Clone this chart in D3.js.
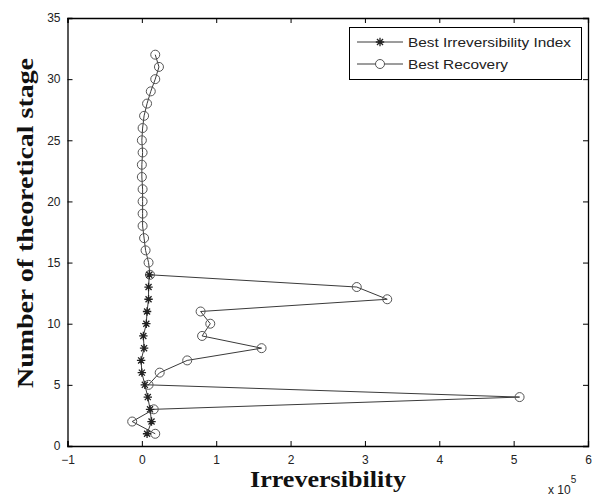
<!DOCTYPE html>
<html>
<head>
<meta charset="utf-8">
<script src="https://cdn.jsdelivr.net/npm/d3@7"></script>
<style>
  html, body { margin: 0; padding: 0; background: #fff; }
  svg { display: block; }
</style>
</head>
<body>
<script>
// ---- data (x values in units of 1e5) ----
const recoveryStages = [1,2,3,4,5,6,7,8,9,10,11,12,13,14,15,16,17,18,19,20,21,22,23,24,25,26,27,28,29,30,31,32];
const recoveryValues = [0.18,-0.13,0.16,5.08,0.09,0.24,0.61,1.61,0.81,0.92,0.79,3.30,2.89,0.11,0.09,0.05,0.03,0.01,0.01,0.01,0.01,0.0,0.0,0.01,0.0,0.01,0.03,0.07,0.12,0.18,0.23,0.18];
const irrevStages = [1,2,3,4,5,6,7,8,9,10,11,12,13,14];
const irrevValues = [0.07,0.13,0.11,0.08,0.04,0.0,-0.01,0.03,0.02,0.06,0.07,0.09,0.09,0.10];
const xTicks = [-1,0,1,2,3,4,5,6];
const yTicks = [0,5,10,15,20,25,30,35];
const seriesNames = ["Best Irreversibility  Index", "Best Recovery"];
const xLabel = "Irreversibility";
const yLabel = "Number of theoretical stage";

const W = 596, H = 497;
const L = 67.5, R = 588, T = 18, B = 446;

const svg = d3.select("body").append("svg").attr("width", W).attr("height", H);
const x = d3.scaleLinear().domain([-1, 6]).range([L, R]);
const y = d3.scaleLinear().domain([0, 35]).range([B, T]);

const lineCol = "#3a3a3a";
const tickFont = "Liberation Sans, Arial, sans-serif";

// axes (inward ticks, box)
const axB = d3.axisBottom(x).tickValues(xTicks).tickSize(-5).tickPadding(9).tickFormat(d3.format("d"));
const axT = d3.axisTop(x).tickValues(xTicks).tickSize(-5).tickFormat("");
const axL = d3.axisLeft(y).tickValues(yTicks).tickSize(-5).tickPadding(7).tickFormat(d3.format("d"));
const axR = d3.axisRight(y).tickValues(yTicks).tickSize(-5).tickFormat("");

function style(g) {
  g.select(".domain").attr("stroke", "#000").attr("stroke-width", 1.3);
  g.selectAll(".tick line").attr("stroke", "#000").attr("stroke-width", 1);
  g.selectAll(".tick text").attr("font-family", tickFont).attr("font-size", 12).attr("fill", "#222");
}
svg.append("g").attr("transform", `translate(0,${B})`).call(axB).call(style);
svg.append("g").attr("transform", `translate(0,${T})`).call(axT).call(style);
svg.append("g").attr("transform", `translate(${L},0)`).call(axL).call(style);
svg.append("g").attr("transform", `translate(${R},0)`).call(axR).call(style);

// lines
const recData = recoveryStages.map((s, i) => ({s, v: recoveryValues[i]}));
const irrData = irrevStages.map((s, i) => ({s, v: irrevValues[i]}));
const lineGen = d3.line().x(d => x(d.v)).y(d => y(d.s));

svg.append("path").datum(recData).attr("d", lineGen)
  .attr("fill", "none").attr("stroke", lineCol).attr("stroke-width", 1);
svg.append("path").datum(irrData).attr("d", lineGen)
  .attr("fill", "none").attr("stroke", lineCol).attr("stroke-width", 1);

// markers
function star(g, cx, cy, r) {
  const p = d3.path();
  p.moveTo(cx - r, cy); p.lineTo(cx + r, cy);
  p.moveTo(cx, cy - r); p.lineTo(cx, cy + r);
  const d = r * 0.72;
  p.moveTo(cx - d, cy - d); p.lineTo(cx + d, cy + d);
  p.moveTo(cx - d, cy + d); p.lineTo(cx + d, cy - d);
  g.append("path").attr("d", p.toString()).attr("stroke", "#222").attr("stroke-width", 1.3).attr("fill", "none");
}
svg.append("g").selectAll("circle").data(recData).join("circle")
  .attr("cx", d => x(d.v)).attr("cy", d => y(d.s)).attr("r", 4.5)
  .attr("fill", "none").attr("stroke", "#555").attr("stroke-width", 1);
const sg = svg.append("g");
irrData.forEach(d => star(sg, x(d.v), y(d.s), 4.2));

// axis labels
svg.append("text").attr("x", 250).attr("y", 487)
  .attr("font-family", "Liberation Serif, Times New Roman, serif").attr("font-weight", "bold")
  .attr("font-size", 23).attr("fill", "#111")
  .attr("textLength", 156).attr("lengthAdjust", "spacingAndGlyphs")
  .text(xLabel);
svg.append("text").attr("transform", "translate(33,388) rotate(-90)")
  .attr("font-family", "Liberation Serif, Times New Roman, serif").attr("font-weight", "bold")
  .attr("font-size", 24).attr("fill", "#111")
  .attr("textLength", 330).attr("lengthAdjust", "spacingAndGlyphs")
  .text(yLabel);

// exponent
const ex = svg.append("text").attr("x", 548).attr("y", 494)
  .attr("font-family", tickFont).attr("font-size", 12).attr("fill", "#222");
ex.append("tspan").text("x 10");
ex.append("tspan").attr("dy", -11).attr("font-size", 10).text("5");

// legend
const lg = svg.append("g");
lg.append("rect").attr("x", 349.5).attr("y", 27.5).attr("width", 232).attr("height", 52)
  .attr("fill", "#fff").attr("stroke", "#000").attr("stroke-width", 1);
const rows = [42, 64];
rows.forEach((ry, i) => {
  lg.append("line").attr("x1", 357).attr("x2", 403).attr("y1", ry).attr("y2", ry)
    .attr("stroke", lineCol).attr("stroke-width", 1);
  if (i === 0) star(lg, 380, ry, 4.2);
  else lg.append("circle").attr("cx", 380).attr("cy", ry).attr("r", 4.5)
    .attr("fill", "#fff").attr("stroke", "#555").attr("stroke-width", 1);
  lg.append("text").attr("x", 408).attr("y", ry + 5)
    .attr("font-family", tickFont).attr("font-size", 13.5).attr("fill", "#222")
    .attr("textLength", i === 0 ? 163 : 100).attr("lengthAdjust", "spacingAndGlyphs")
    .text(seriesNames[i]);
});
</script>
</body>
</html>
